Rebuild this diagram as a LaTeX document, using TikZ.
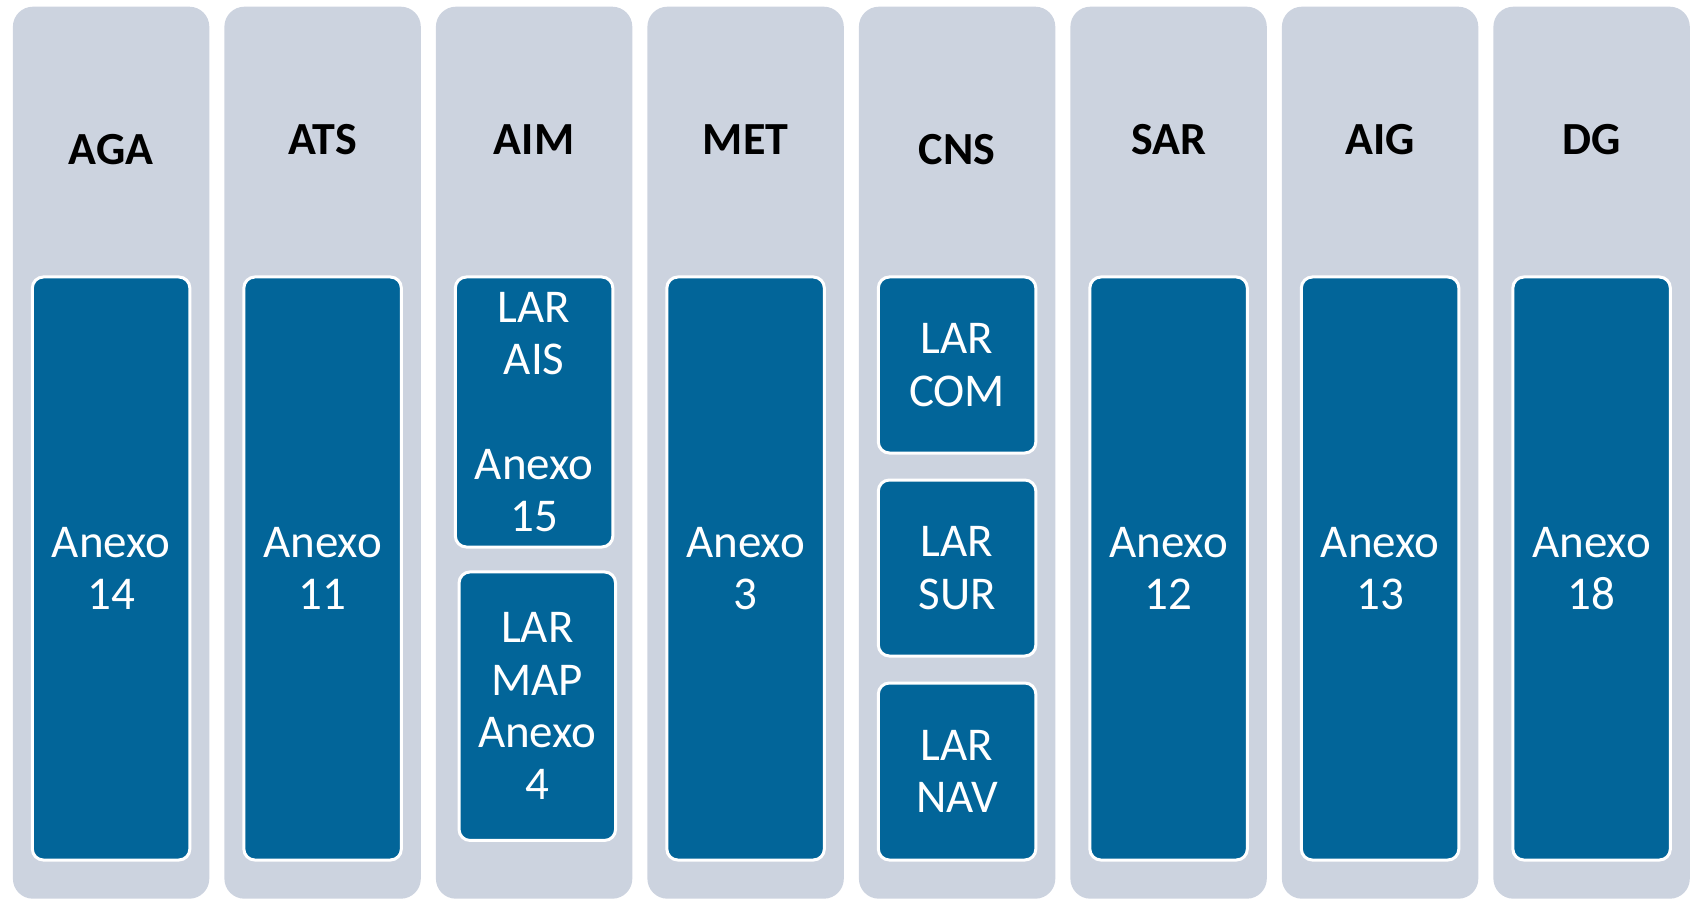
\documentclass[tikz,border=0pt]{standalone}
\usepackage{fontspec}
\setmainfont{Carlito}

\definecolor{colgray}{RGB}{204,211,223}
\definecolor{boxblue}{RGB}{2,101,153}

\tikzset{
  col/.style={fill=colgray, rounded corners=20pt, minimum width=196.4pt, minimum height=892pt, inner sep=0pt},
  head/.style={font=\fontsize{46}{52}\selectfont\bfseries, text=black, inner sep=0pt},
  anexo/.style={fill=boxblue, draw=white, line width=3pt, rounded corners=11pt, text=white,
    align=center, minimum width=157.5pt, inner sep=0pt, font=\fontsize{47}{52.3}\selectfont},
}

\begin{document}
\begin{tikzpicture}[x=1pt, y=-1pt]
  \useasboundingbox (0,0) rectangle (1692,901);

  \node[col] (aga) at ( 111.1, 452.7) {};
  \node[col] (ats) at ( 322.6, 452.7) {};
  \node[col] (aim) at ( 534.1, 452.7) {};
  \node[col] (met) at ( 745.6, 452.7) {};
  \node[col] (cns) at ( 957.1, 452.7) {};
  \node[col] (sar) at (1168.6, 452.7) {};
  \node[col] (aig) at (1380.1, 452.7) {};
  \node[col] (dg)  at (1591.6, 452.7) {};

  \node[head] (aga-t) at ( 111.1, 149.5) {AGA};
  \node[head] (ats-t) at ( 322.6, 140) {ATS};
  \node[head] (aim-t) at ( 534.1, 140) {AIM};
  \node[head] (met-t) at ( 745.6, 140) {MET};
  \node[head] (cns-t) at ( 957.1, 149.5) {CNS};
  \node[head] (sar-t) at (1168.6, 140) {SAR};
  \node[head] (aig-t) at (1380.1, 140) {AIG};
  \node[head] (dg-t)  at (1591.6, 140) {DG};

  \node[anexo, minimum height=583pt] (a14) at ( 111.1, 568.5) {Anexo\\14};
  \node[anexo, minimum height=583pt] (a11) at ( 322.6, 568.5) {Anexo\\11};
  \node[anexo, minimum height=270pt] (ais) at ( 534.1, 412) {LAR\\AIS\\~\\Anexo\\15};
  \node[anexo, minimum height=268.5pt, minimum width=156.5pt] (map) at ( 537.3, 706.2) {LAR\\MAP\\Anexo\\4};
  \node[anexo, minimum height=583pt] (a3)  at ( 745.6, 568.5) {Anexo\\3};
  \node[anexo, minimum height=176pt] (com) at ( 957.1, 365) {LAR\\COM};
  \node[anexo, minimum height=176pt] (sur) at ( 957.1, 568) {LAR\\SUR};
  \node[anexo, minimum height=177pt] (nav) at ( 957.1, 771.5) {LAR\\NAV};
  \node[anexo, minimum height=583pt] (a12) at (1168.6, 568.5) {Anexo\\12};
  \node[anexo, minimum height=583pt] (a13) at (1380.1, 568.5) {Anexo\\13};
  \node[anexo, minimum height=583pt] (a18) at (1591.6, 568.5) {Anexo\\18};
\end{tikzpicture}
\end{document}
